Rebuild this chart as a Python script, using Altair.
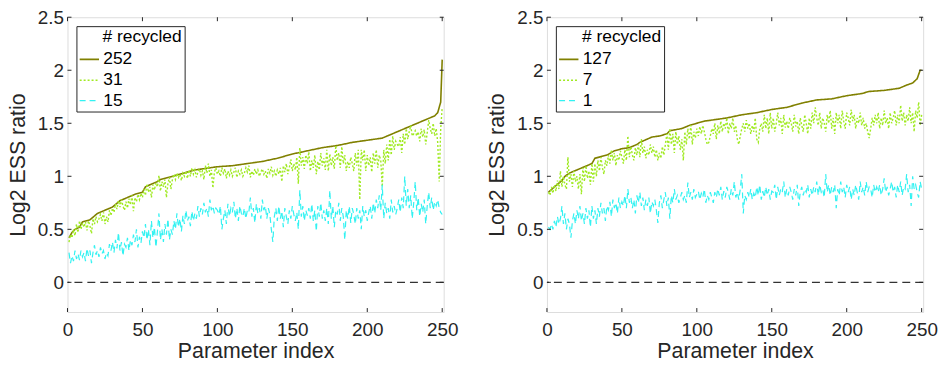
import altair as alt
import pandas as pd

# ---------------- data ----------------
# Left panel
L_solid_idx = [1, 3, 5, 8, 10, 15, 20, 25, 30, 35, 40, 45, 50, 52, 55, 60, 62, 70, 75, 80, 85, 90,
               100, 110, 120, 130, 140, 145, 150, 160, 170, 180, 190, 200, 210, 215, 220, 225, 230,
               240, 245, 247, 248, 249, 250]
L_solid_val = [0.42, 0.47, 0.50, 0.52, 0.57, 0.59, 0.65, 0.68, 0.71, 0.77, 0.80, 0.83, 0.85, 0.90,
               0.92, 0.95, 0.97, 1.00, 1.02, 1.04, 1.06, 1.07, 1.09, 1.10, 1.12, 1.14, 1.17, 1.19,
               1.21, 1.24, 1.27, 1.29, 1.32, 1.34, 1.36, 1.39, 1.42, 1.45, 1.48, 1.54, 1.57, 1.60,
               1.65, 1.70, 2.10]

L_green = [
    0.38, 0.45, 0.42, 0.50, 0.44, 0.55, 0.47, 0.58, 0.50, 0.56,
    0.52, 0.57, 0.49, 0.58, 0.53, 0.46, 0.60, 0.55, 0.62, 0.57,
    0.60, 0.64, 0.58, 0.66, 0.55, 0.62, 0.57, 0.68, 0.63, 0.70,
    0.66, 0.74, 0.69, 0.77, 0.71, 0.78, 0.72, 0.68, 0.76, 0.70,
    0.79, 0.73, 0.82, 0.67, 0.80, 0.76, 0.83, 0.78, 0.84, 0.80,
    0.88, 0.82, 0.93, 0.85, 0.90, 0.80, 0.92, 0.87, 0.94, 0.90,
    1.01, 0.86, 0.95, 0.90, 0.97, 0.80, 0.93, 0.99, 0.88, 0.97,
    1.02, 0.97, 1.03, 0.99, 1.02, 0.96, 1.03, 1.00, 1.05, 0.98,
    1.06, 1.00, 1.08, 1.02, 1.06, 0.99, 1.04, 1.07, 1.01, 1.05,
    0.97, 1.10, 1.03, 1.12, 1.00, 1.06, 0.89, 1.04, 1.08, 1.02,
    1.05, 1.00, 1.08, 1.03, 1.07, 0.98, 1.05, 1.01, 1.06, 1.00,
    1.04, 1.08, 0.99, 1.05, 1.02, 1.06, 1.00, 1.03, 1.08, 1.04,
    1.10, 0.99, 1.05, 1.01, 1.07, 1.02, 1.06, 1.00, 1.04, 1.07,
    1.02, 1.05, 0.98, 1.07, 1.03, 1.09, 1.01, 1.05, 1.00, 1.06,
    1.02, 1.08, 0.95, 1.10, 1.04, 1.12, 1.02, 1.08, 1.16, 1.05,
    1.12, 1.06, 1.18, 0.93, 1.27, 1.10, 1.18, 1.07, 1.20, 1.12,
    1.23, 1.05, 1.15, 1.08, 1.20, 1.02, 1.14, 1.06, 1.22, 1.10,
    1.17, 1.06, 1.25, 1.05, 1.21, 1.10, 1.18, 1.07, 1.29, 1.15,
    1.22, 1.08, 1.28, 1.12, 1.20, 1.05, 1.14, 1.08, 1.18, 1.12,
    1.05, 1.22, 1.10, 1.25, 0.78, 1.25, 1.15, 1.25, 1.05, 1.20,
    1.10, 1.18, 1.04, 1.22, 1.12, 1.25, 1.08, 1.20, 1.15, 0.90,
    1.25, 1.12, 1.30, 1.15, 1.35, 1.20, 1.38, 1.25, 1.33, 1.30,
    1.28, 1.37, 1.22, 1.40, 1.30, 1.45, 1.35, 1.42, 1.48, 1.38,
    1.40, 1.43, 1.38, 1.42, 1.33, 1.45, 1.37, 1.44, 1.30, 1.41,
    1.53, 1.45, 1.40, 1.50, 1.38, 1.45, 1.32, 0.95, 1.45, 1.65,
]

L_cyan = [
    0.28, 0.18, 0.25, 0.20, 0.30, 0.22, 0.27, 0.21, 0.30, 0.24,
    0.28, 0.20, 0.32, 0.25, 0.30, 0.18, 0.28, 0.35, 0.26, 0.30,
    0.24, 0.33, 0.27, 0.30, 0.22, 0.28, 0.25, 0.36, 0.30, 0.38,
    0.28, 0.40, 0.32, 0.47, 0.30, 0.38, 0.25, 0.36, 0.33, 0.42,
    0.30, 0.40, 0.35, 0.45, 0.38, 0.50, 0.33, 0.43, 0.37, 0.48,
    0.42, 0.55, 0.40, 0.50, 0.35, 0.58, 0.42, 0.52, 0.33, 0.48,
    0.65, 0.40, 0.50, 0.38, 0.55, 0.45, 0.60, 0.40, 0.50, 0.45,
    0.58, 0.50, 0.65, 0.52, 0.60, 0.48, 0.63, 0.55, 0.68, 0.58,
    0.62, 0.53, 0.67, 0.58, 0.65, 0.60, 0.72, 0.62, 0.70, 0.64,
    0.75, 0.66, 0.70, 0.62, 0.78, 0.68, 0.72, 0.65, 0.70, 0.68,
    0.64, 0.72, 0.50, 0.60, 0.68, 0.55, 0.74, 0.62, 0.70, 0.66,
    0.76, 0.60, 0.70, 0.58, 0.72, 0.65, 0.62, 0.70, 0.60, 0.68,
    0.66, 0.80, 0.62, 0.70, 0.56, 0.74, 0.65, 0.70, 0.60, 0.78,
    0.68, 0.72, 0.60, 0.70, 0.64, 0.50, 0.38, 0.62, 0.70, 0.58,
    0.72, 0.60, 0.67, 0.52, 0.70, 0.62, 0.55, 0.68, 0.60, 0.72,
    0.64, 0.58, 0.66, 0.50, 0.87, 0.62, 0.72, 0.58, 0.68, 0.63,
    0.70, 0.60, 0.74, 0.58, 0.68, 0.48, 0.72, 0.62, 0.75, 0.60,
    0.68, 0.58, 0.70, 0.55, 0.87, 0.60, 0.72, 0.52, 0.68, 0.64,
    0.75, 0.58, 0.70, 0.62, 0.40, 0.68, 0.60, 0.72, 0.56, 0.70,
    0.64, 0.55, 0.70, 0.60, 0.68, 0.50, 0.72, 0.62, 0.68, 0.58,
    0.66, 0.72, 0.60, 0.75, 0.65, 0.78, 0.70, 0.82, 0.68, 0.92,
    0.60, 0.75, 0.65, 0.70, 0.60, 0.78, 0.66, 0.72, 0.64, 0.70,
    0.78, 0.66, 0.80, 0.70, 1.00, 0.72, 0.88, 0.70, 0.82, 0.60,
    0.75, 0.95, 0.68, 0.80, 0.62, 0.74, 0.66, 0.78, 0.55, 0.72,
    0.85, 0.70, 0.80, 0.68, 0.76, 0.72, 0.78, 0.70, 0.66, 0.64,
]

# Right panel
R_solid_idx = [1, 5, 10, 12, 15, 20, 25, 30, 32, 40, 45, 50, 55, 60, 62, 70, 75, 80, 82, 90, 95,
               100, 105, 110, 120, 130, 140, 150, 160, 170, 180, 190, 200, 210, 215, 225, 235,
               240, 244, 247, 249, 250]
R_solid_val = [0.85, 0.90, 0.96, 1.00, 1.03, 1.06, 1.09, 1.12, 1.17, 1.20, 1.24, 1.26, 1.27, 1.30,
               1.32, 1.37, 1.38, 1.40, 1.43, 1.45, 1.48, 1.50, 1.52, 1.53, 1.55, 1.58, 1.60, 1.63,
               1.65, 1.69, 1.72, 1.73, 1.76, 1.78, 1.80, 1.81, 1.83, 1.86, 1.88, 1.92, 2.00, 2.00]

R_green = [
    0.85, 0.82, 0.90, 0.84, 0.92, 0.86, 0.96, 0.88, 1.05, 0.90,
    1.00, 0.92, 0.88, 1.18, 0.95, 1.02, 0.90, 1.05, 0.95, 1.00,
    0.88, 1.02, 0.83, 1.08, 0.95, 1.10, 0.98, 1.05, 0.92, 1.12,
    0.95, 1.12, 1.00, 1.15, 1.05, 1.18, 1.08, 1.02, 1.15, 1.10,
    1.20, 1.12, 1.25, 1.15, 1.22, 1.10, 1.20, 1.15, 1.24, 1.18,
    1.12, 1.25, 1.15, 1.38, 1.18, 1.28, 1.20, 1.15, 1.27, 1.20,
    1.30, 1.18, 1.35, 1.22, 1.28, 1.17, 1.25, 1.20, 1.30, 1.22,
    1.28, 1.18, 1.25, 1.15, 1.22, 1.17, 1.28, 1.20, 1.30, 1.40,
    1.25, 1.45, 1.30, 1.40, 1.22, 1.42, 1.30, 1.38, 1.25, 1.35,
    1.15, 1.42, 1.30, 1.45, 1.35, 1.48, 1.30, 1.42, 1.36, 1.45,
    1.38, 1.47, 1.40, 1.48, 1.42, 1.35, 1.30, 1.32, 1.38, 1.45,
    1.40, 1.50, 1.35, 1.48, 1.40, 1.52, 1.42, 1.50, 1.45, 1.55,
    1.40, 1.50, 1.45, 1.55, 1.42, 1.48, 1.35, 1.30, 1.38, 1.45,
    1.50, 1.42, 1.53, 1.45, 1.50, 1.40, 1.48, 1.42, 1.55, 1.35,
    1.32, 1.45, 1.50, 1.42, 1.58, 1.45, 1.55, 1.40, 1.60, 1.45,
    1.55, 1.42, 1.50, 1.60, 1.48, 1.55, 1.40, 1.58, 1.46, 1.52,
    1.45, 1.55, 1.50, 1.42, 1.58, 1.47, 1.52, 1.40, 1.55, 1.48,
    1.42, 1.58, 1.50, 1.40, 1.55, 1.45, 1.60, 1.50, 1.65, 1.55,
    1.48, 1.60, 1.45, 1.55, 1.50, 1.42, 1.58, 1.50, 1.62, 1.45,
    1.55, 1.40, 1.60, 1.50, 1.58, 1.45, 1.62, 1.52, 1.45, 1.60,
    1.55, 1.48, 1.63, 1.52, 1.58, 1.45, 1.55, 1.50, 1.60, 1.48,
    1.55, 1.45, 1.50, 1.42, 1.36, 1.45, 1.55, 1.48, 1.58, 1.50,
    1.60, 1.45, 1.55, 1.48, 1.62, 1.50, 1.55, 1.45, 1.60, 1.50,
    1.55, 1.62, 1.48, 1.58, 1.50, 1.67, 1.52, 1.60, 1.48, 1.58,
    1.52, 1.65, 1.50, 1.60, 1.42, 1.62, 1.55, 1.70, 1.48, 1.58,
]

R_cyan = [
    0.52, 0.50, 0.55, 0.50, 0.58, 0.52, 0.62, 0.55, 0.60, 0.72,
    0.55, 0.65, 0.50, 0.60, 0.55, 0.42, 0.58, 0.65, 0.55, 0.68,
    0.60, 0.72, 0.58, 0.65, 0.55, 0.70, 0.60, 0.68, 0.52, 0.72,
    0.60, 0.68, 0.55, 0.70, 0.62, 0.75, 0.65, 0.70, 0.58, 0.72,
    0.68, 0.76, 0.62, 0.78, 0.70, 0.75, 0.65, 0.80, 0.70, 0.76,
    0.72, 0.82, 0.70, 0.88, 0.75, 0.80, 0.70, 0.78, 0.65, 0.82,
    0.75, 0.85, 0.72, 0.80, 0.68, 0.78, 0.72, 0.80, 0.65, 0.76,
    0.72, 0.78, 0.68, 0.56, 0.75, 0.82, 0.70, 0.78, 0.85, 0.72,
    0.80, 0.60, 0.82, 0.75, 0.88, 0.78, 0.82, 0.75, 0.80, 0.85,
    0.78, 0.82, 0.75, 0.94, 0.80, 0.85, 0.78, 0.88, 0.80, 0.83,
    0.86, 0.78, 0.84, 0.80, 0.88, 0.75, 0.82, 0.78, 0.85, 0.80,
    0.75, 0.85, 0.80, 0.88, 0.82, 0.90, 0.78, 0.86, 0.80, 0.90,
    0.85, 0.78, 0.88, 0.82, 0.95, 0.80, 0.85, 0.78, 0.88, 1.02,
    0.65, 0.82, 0.78, 0.85, 0.80, 0.88, 0.78, 0.84, 0.80, 0.90,
    0.82, 0.92, 0.78, 0.86, 0.80, 0.90, 0.82, 0.88, 0.78, 0.86,
    0.85, 0.92, 0.78, 0.90, 0.82, 0.88, 0.85, 0.95, 0.80, 0.88,
    0.82, 0.90, 0.85, 0.78, 0.88, 0.82, 0.92, 0.72, 0.85, 0.90,
    0.82, 0.88, 0.85, 0.92, 0.80, 0.88, 0.82, 0.90, 0.85, 0.95,
    0.82, 0.92, 0.85, 0.88, 0.80, 1.02, 0.85, 0.92, 0.82, 0.90,
    0.85, 0.92, 0.70, 0.88, 0.82, 0.95, 0.85, 0.90, 0.80, 0.92,
    0.85, 0.90, 0.78, 0.88, 0.82, 0.92, 0.85, 0.78, 0.95, 0.85,
    0.90, 0.82, 0.95, 0.85, 0.90, 0.88, 0.80, 0.92, 0.85, 0.90,
    0.85, 0.92, 0.82, 0.88, 0.98, 0.85, 0.90, 0.82, 0.88, 0.95,
    0.85, 0.90, 0.80, 0.92, 0.85, 0.95, 0.82, 0.90, 0.88, 1.02,
    0.85, 0.92, 0.72, 1.00, 0.88, 0.92, 0.85, 0.80, 0.95, 0.88,
]

L_names = ["252", "31", "15"]
R_names = ["127", "7", "1"]
x_ticks = [0, 50, 100, 150, 200, 250]
y_ticks = [0, 0.5, 1, 1.5, 2, 2.5]
LEGEND_TITLE = "\u200b\u00a0\u00a0\u00a0\u00a0\u00a0# recycled"

COLORS = ["#808000", "#a0ea22", "#33f2f2"]
DASHES = [[1, 0], [2, 2], [6, 4]]
WIDTHS = [1.6, 1.2, 1.0]
FONT = "Liberation Sans"
TXT = "#262626"

W, H = 379, 297
XDOM = [0, 251]
YDOM = [-0.28, 2.5]


def panel(names, s_idx, s_val, green, cyan):
    rows = []
    for i, v in zip(s_idx, s_val):
        rows.append({"idx": i, "val": v, "series": names[0]})
    for k, v in enumerate(green):
        rows.append({"idx": k + 1, "val": v, "series": names[1]})
    for k, v in enumerate(cyan):
        rows.append({"idx": k + 1, "val": v, "series": names[2]})
    df = pd.DataFrame(rows)
    df["order"] = df["series"].map({n: j for j, n in enumerate(names)})

    xs = alt.Scale(domain=XDOM, nice=False, zero=False)
    ys = alt.Scale(domain=YDOM, nice=False, zero=False)

    xaxis = alt.Axis(values=x_ticks, title="Parameter index", grid=False, ticks=False,
                     domain=False, labelFlush=False, labelPadding=9, titlePadding=1,
                     labelFontSize=19, titleFontSize=21.5, labelFont=FONT, titleFont=FONT,
                     labelColor=TXT, titleColor=TXT, titleFontWeight="normal")
    yaxis = alt.Axis(values=y_ticks, title="Log2 ESS ratio", grid=False, ticks=False,
                     domain=False, format="~g", labelPadding=4, titlePadding=8,
                     labelFontSize=19, titleFontSize=21.5, labelFont=FONT, titleFont=FONT,
                     labelColor=TXT, titleColor=TXT, titleFontWeight="normal")

    legend = alt.Legend(
        title=LEGEND_TITLE, orient="none", legendX=9, legendY=9,
        symbolType="stroke", symbolSize=380, symbolStrokeWidth=1.4,
        labelFontSize=17.5, titleFontSize=17.5, labelFont=FONT, titleFont=FONT,
        titleFontWeight="normal", labelColor="#000", titleColor="#000",
        strokeColor="#262626", fillColor="white", padding=2, rowPadding=1.5,
        titlePadding=3, labelOffset=3,
    )

    lines = alt.Chart(df).mark_line(clip=True).encode(
        x=alt.X("idx:Q", scale=xs, axis=xaxis),
        y=alt.Y("val:Q", scale=ys, axis=yaxis),
        color=alt.Color("series:N", scale=alt.Scale(domain=names, range=COLORS), legend=legend),
        strokeDash=alt.StrokeDash("series:N", scale=alt.Scale(domain=names, range=DASHES),
                                  legend=legend),
        strokeWidth=alt.StrokeWidth("series:N", scale=alt.Scale(domain=names, range=WIDTHS),
                                    legend=None),
        order=alt.Order("order:Q"),
        detail="series:N",
    )

    zero = alt.Chart(pd.DataFrame({"z": [0]})).mark_rule(
        color="#333333", strokeDash=[8, 5], strokeWidth=1.1
    ).encode(y=alt.Y("z:Q", scale=ys))

    yt = pd.DataFrame({"v": y_ticks})
    xt = pd.DataFrame({"v": x_ticks})
    tick_style = dict(color="#262626", strokeWidth=1)
    ytl = alt.Chart(yt).mark_rule(**tick_style).encode(
        y=alt.Y("v:Q", scale=ys), x=alt.value(0), x2=alt.value(4))
    ytr = alt.Chart(yt).mark_rule(**tick_style).encode(
        y=alt.Y("v:Q", scale=ys), x=alt.value(W - 4), x2=alt.value(W))
    xtb = alt.Chart(xt).mark_rule(**tick_style).encode(
        x=alt.X("v:Q", scale=xs), y=alt.value(H), y2=alt.value(H - 4))
    xtt = alt.Chart(xt).mark_rule(**tick_style).encode(
        x=alt.X("v:Q", scale=xs), y=alt.value(0), y2=alt.value(4))

    return alt.layer(lines, zero, ytl, ytr, xtb, xtt).properties(width=W, height=H)


left = panel(L_names, L_solid_idx, L_solid_val, L_green, L_cyan)
right = panel(R_names, R_solid_idx, R_solid_val, R_green, R_cyan)

chart = alt.hconcat(left, right, spacing=28).resolve_scale(
    color="independent", strokeDash="independent", strokeWidth="independent"
).resolve_legend(color="independent", strokeDash="independent").properties(
    padding={"left": 7, "top": 6, "right": 5, "bottom": 0}
).configure_view(stroke="#262626", strokeWidth=1).configure(background="white")

chart.save("out.html", embed_options={"renderer": "svg", "actions": False})
